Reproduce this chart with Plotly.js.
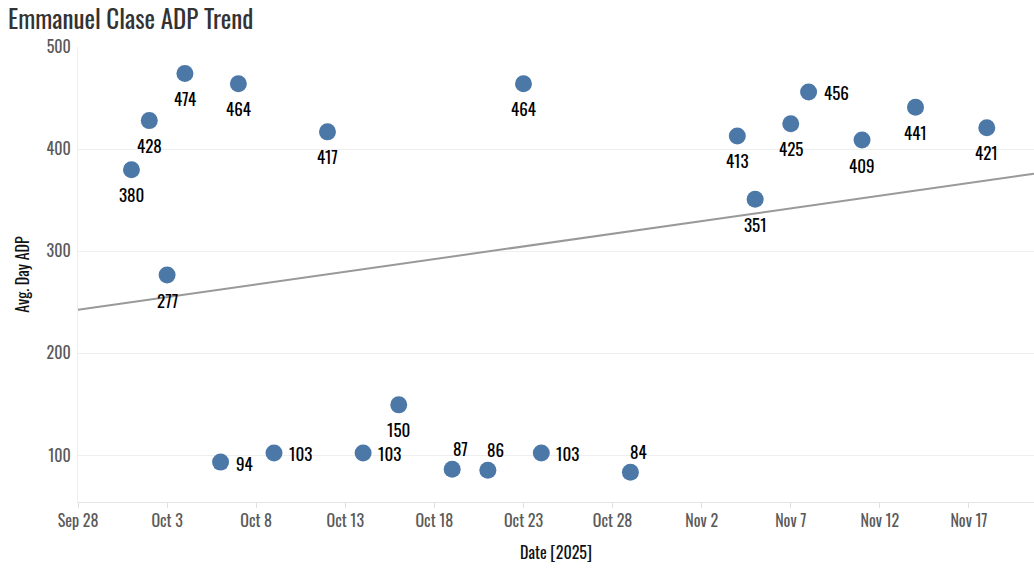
<!DOCTYPE html>
<html>
<head>
<meta charset="utf-8">
<script src="https://cdn.plot.ly/plotly-3.0.1.min.js"></script>
<style>
  html, body { margin: 0; padding: 0; background: #fff; }
  #chart { width: 1034px; height: 579px; }
</style>
</head>
<body>
<div id="chart"></div>
<script>
// ---- data ----
const gameDates = [
  '2025-10-01', '2025-10-02', '2025-10-03', '2025-10-04', '2025-10-06',
  '2025-10-07', '2025-10-09', '2025-10-12', '2025-10-14', '2025-10-16',
  '2025-10-19', '2025-10-21', '2025-10-23', '2025-10-24', '2025-10-29',
  '2025-11-04', '2025-11-05', '2025-11-07', '2025-11-08', '2025-11-11',
  '2025-11-14', '2025-11-18'
];
const avgDayADP = [
  380, 428, 277, 474, 94,
  464, 103, 417, 103, 150,
  87, 86, 464, 103, 84,
  413, 351, 425, 456, 409,
  441, 421
];
const chartTitle = 'Emmanuel Clase ADP Trend';
const xTitle = 'Date [2025]';
const yTitle = 'Avg. Day ADP';

// ---- styling ----
const FONT = 'Oswald, "Roboto Condensed", sans-serif';
const xRange = ['2025-09-28 00:00', '2025-11-20 15:36'];
const yRange = [55, 500];
// where each value label sits relative to its point (b = below, r = right, t = above)
const labelPlacement = [
  'b', 'b', 'b', 'b', 'r',
  'b', 'r', 'b', 'r', 'b',
  't', 't', 'b', 'r', 't',
  'b', 'b', 'b', 'r', 'b',
  'b', 'b'
];
const placementStyle = {
  b: { xanchor: 'center', yanchor: 'middle', xshift: 0, yshift: -25 },
  r: { xanchor: 'left', yanchor: 'middle', xshift: 13, yshift: -1 },
  t: { xanchor: 'center', yanchor: 'middle', xshift: 8, yshift: 21 }
};

// ---- linear trend (least squares on the data) ----
const DAY = 86400000;
const t = gameDates.map(d => new Date(d + 'T00:00:00Z').getTime() / DAY);
const n = t.length;
const mt = t.reduce((a, b) => a + b, 0) / n;
const my = avgDayADP.reduce((a, b) => a + b, 0) / n;
let sxy = 0, sxx = 0;
for (let i = 0; i < n; i++) { sxy += (t[i] - mt) * (avgDayADP[i] - my); sxx += (t[i] - mt) ** 2; }
const slope = sxy / sxx;
const icpt = my - slope * mt;
const toDay = s => new Date(s.replace(' ', 'T') + ':00Z').getTime() / DAY;
const trendX = xRange.map(s => s);
const trendY = xRange.map(s => icpt + slope * toDay(s));

const trend = {
  type: 'scatter', mode: 'lines',
  x: trendX, y: trendY,
  line: { color: '#999999', width: 2 },
  hoverinfo: 'skip', showlegend: false
};
const pts = {
  type: 'scatter', mode: 'markers',
  x: gameDates, y: avgDayADP,
  marker: { size: 17, color: '#4c78a8' },
  cliponaxis: false,
  showlegend: false
};

const labels = gameDates.map((d, i) => Object.assign({
  x: d, y: avgDayADP[i], xref: 'x', yref: 'y',
  text: String(avgDayADP[i]), showarrow: false,
  font: { family: FONT, size: 17, color: '#000' }
}, placementStyle[labelPlacement[i]]));

const layout = {
  width: 1034, height: 579,
  margin: { l: 78, r: 0, t: 47, b: 77 },
  paper_bgcolor: '#fff', plot_bgcolor: '#fff',
  font: { family: FONT, color: '#333' },
  title: {
    text: chartTitle,
    font: { family: FONT, size: 25, color: '#333' },
    x: 8 / 1034, xref: 'container', xanchor: 'left',
    y: 1 - 20 / 579, yref: 'container', yanchor: 'middle'
  },
  annotations: labels,
  xaxis: {
    type: 'date', range: xRange,
    tick0: '2025-09-28', dtick: 5 * DAY,
    tickformat: '%b %-d',
    showgrid: false, zeroline: false,
    showline: true, linecolor: '#e6e6e6', linewidth: 1,
    ticks: 'outside', ticklen: 5, tickcolor: '#e0e0e0',
    tickfont: { family: FONT, size: 16, color: '#595959' },
    title: { text: xTitle, font: { family: FONT, size: 16, color: '#111' }, standoff: 16 },
    automargin: false
  },
  yaxis: {
    range: yRange, tickvals: [100, 200, 300, 400, 500],
    showgrid: true, gridcolor: '#eeeeee', zeroline: false,
    showline: true, linecolor: '#eeeeee',
    ticks: '', ticklabelstandoff: 3,
    tickfont: { family: FONT, size: 16, color: '#595959' },
    title: { text: yTitle, font: { family: FONT, size: 16, color: '#111' }, standoff: 12 },
    automargin: false
  }
};

Plotly.newPlot('chart', [trend, pts], layout, { displayModeBar: false, staticPlot: true });
</script>
</body>
</html>
